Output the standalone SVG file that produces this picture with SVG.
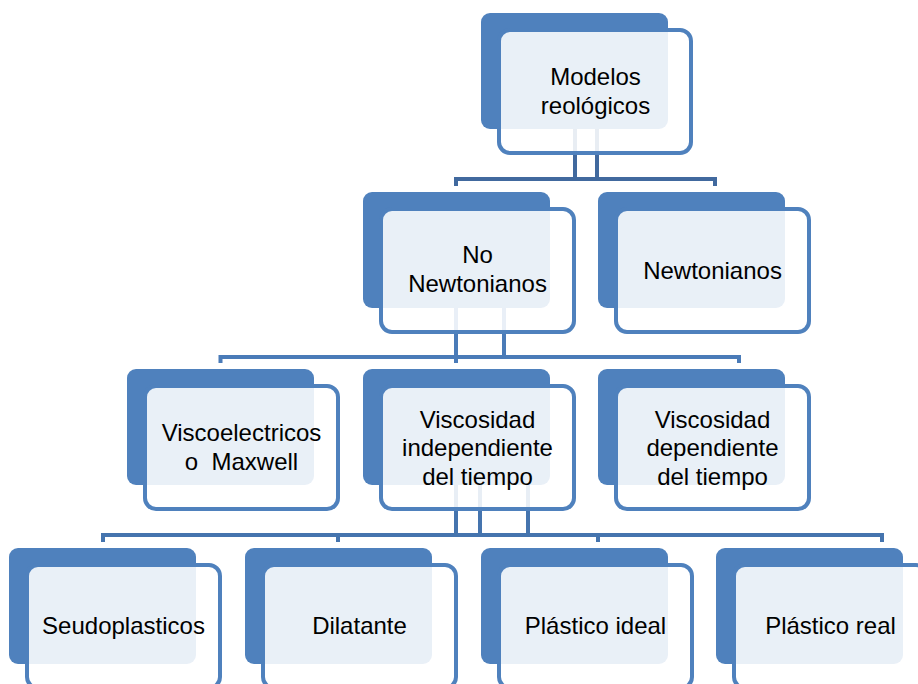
<svg xmlns="http://www.w3.org/2000/svg" width="918" height="684" viewBox="0 0 918 684">
<style>
.back{fill:#4F81BD}
.front{fill:#FFFFFF;fill-opacity:0.88;stroke:#4F81BD;stroke-width:4}
.t{font-family:"Liberation Sans",Arial,sans-serif;font-size:24px;fill:#000;text-anchor:middle;white-space:pre}
.c1{fill:none;stroke:#41699E;stroke-width:4}
.c2{fill:none;stroke:#4A7BB8;stroke-width:4}
.c3{fill:none;stroke:#4574AE;stroke-width:4}
</style>
<rect width="918" height="684" fill="#FFFFFF"/>
<g id="connectors">
  <path class="c1" d="M575,120 V179 M597,120 V179 M456,186 V179 H715 V186"/>
  <path class="c2" d="M456,300 V363 M504,300 V357 M220.5,363 V357 H739 V363"/>
  <path class="c3" d="M456,480 V535 M480,480 V535 M528,480 V535 M103,542 V535 H882 V542 M338,542 V535 M598,542 V535"/>
</g>
<g id="n-modelos">
  <rect class="back" x="481" y="13" width="187" height="116" rx="9"/>
  <rect class="front" x="499" y="30" width="192" height="123" rx="11"/>
  <text class="t" x="595.5" y="85">Modelos</text>
  <text class="t" x="595.5" y="113.5">reológicos</text>
</g>
<g id="n-nonewtonianos">
  <rect class="back" x="363" y="192" width="187" height="116" rx="9"/>
  <rect class="front" x="381" y="209" width="193" height="123" rx="11"/>
  <text class="t" x="477.5" y="263">No</text>
  <text class="t" x="477.5" y="292">Newtonianos</text>
</g>
<g id="n-newtonianos">
  <rect class="back" x="598" y="192" width="187" height="116" rx="9"/>
  <rect class="front" x="616" y="209" width="193" height="123" rx="11"/>
  <text class="t" x="712.5" y="278.5">Newtonianos</text>
</g>
<g id="n-viscoelectricos">
  <rect class="back" x="127" y="369" width="187" height="116" rx="9"/>
  <rect class="front" x="145" y="386" width="193" height="123" rx="11"/>
  <text class="t" x="241.5" y="441">Viscoelectricos</text>
  <text class="t" x="241.5" y="469.5">o  Maxwell</text>
</g>
<g id="n-independiente">
  <rect class="back" x="363" y="369" width="187" height="116" rx="9"/>
  <rect class="front" x="381" y="386" width="193" height="123" rx="11"/>
  <text class="t" x="477.5" y="427.5">Viscosidad</text>
  <text class="t" x="477.5" y="456">independiente</text>
  <text class="t" x="477.5" y="484.5">del tiempo</text>
</g>
<g id="n-dependiente">
  <rect class="back" x="598" y="369" width="187" height="116" rx="9"/>
  <rect class="front" x="616" y="386" width="193" height="123" rx="11"/>
  <text class="t" x="712.5" y="427.5">Viscosidad</text>
  <text class="t" x="712.5" y="456">dependiente</text>
  <text class="t" x="712.5" y="484.5">del tiempo</text>
</g>
<g id="n-seudoplasticos">
  <rect class="back" x="9" y="548" width="187" height="116" rx="9"/>
  <rect class="front" x="27" y="565" width="193" height="123" rx="11"/>
  <text class="t" x="123.5" y="634">Seudoplasticos</text>
</g>
<g id="n-dilatante">
  <rect class="back" x="245" y="548" width="187" height="116" rx="9"/>
  <rect class="front" x="263" y="565" width="193" height="123" rx="11"/>
  <text class="t" x="359.5" y="634">Dilatante</text>
</g>
<g id="n-plasticoideal">
  <rect class="back" x="481" y="548" width="187" height="116" rx="9"/>
  <rect class="front" x="499" y="565" width="193" height="123" rx="11"/>
  <text class="t" x="595.5" y="634">Plástico ideal</text>
</g>
<g id="n-plasticoreal">
  <rect class="back" x="716" y="548" width="187" height="116" rx="9"/>
  <rect class="front" x="734" y="565" width="193" height="123" rx="11"/>
  <text class="t" x="830.5" y="634">Plástico real</text>
</g>
</svg>
